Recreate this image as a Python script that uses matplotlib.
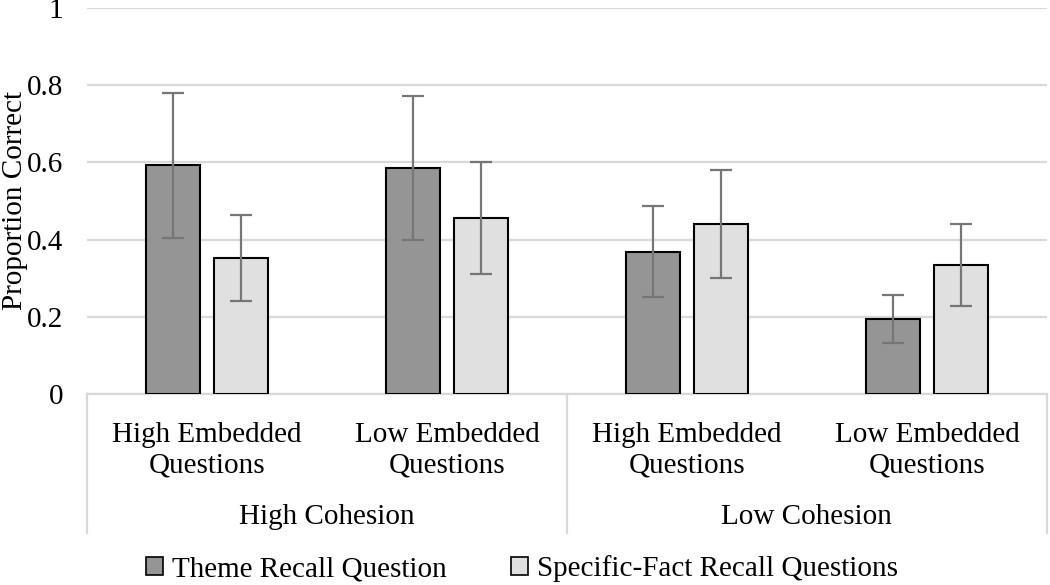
import matplotlib
matplotlib.use('Agg')
import matplotlib.pyplot as plt
from matplotlib.patches import Patch
import matplotlib.transforms as mtransforms
import numpy as np

plt.rcParams['font.family'] = ['Liberation Serif', 'DejaVu Serif']

categories = ['High Embedded\nQuestions', 'Low Embedded\nQuestions',
              'High Embedded\nQuestions', 'Low Embedded\nQuestions']
groups = ['High Cohesion', 'Low Cohesion']
group_sizes = [2, 2]
series_names = ['Theme Recall Question', 'Specific-Fact Recall Questions']
theme_mean = [0.592, 0.586, 0.369, 0.194]
theme_err = [0.187, 0.186, 0.117, 0.062]
fact_mean = [0.352, 0.457, 0.441, 0.333]
fact_err = [0.112, 0.145, 0.140, 0.106]
yticks = [0, 0.2, 0.4, 0.6, 0.8, 1]
ytick_labels = ['0', '0.2', '0.4', '0.6', '0.8', '1']

dark = '#959595'
light = '#e0e0e0'
grid_c = '#d9d9d9'
err_c = '#767676'

fig = plt.figure(figsize=(10.5, 5.85), dpi=100)
ax = fig.add_axes([0.083, 0.3265, 0.914, 0.66])

x = np.arange(len(categories))
w = 0.225
off = 0.142
ekw = dict(ecolor=err_c, elinewidth=1.6, capsize=8, capthick=1.6)
ax.bar(x - off, theme_mean, w, color=dark, edgecolor='black', linewidth=1.5,
       yerr=theme_err, error_kw=ekw, zorder=3)
ax.bar(x + off, fact_mean, w, color=light, edgecolor='black', linewidth=1.5,
       yerr=fact_err, error_kw=ekw, zorder=3)

ax.set_ylim(0, 1)
ax.set_xlim(-0.5, len(categories) - 0.5)
ax.set_yticks(yticks)
ax.set_yticklabels(ytick_labels, fontsize=21)
ax.yaxis.grid(True, color=grid_c, linewidth=1.6, zorder=0)
ax.set_axisbelow(True)
for s in ['top', 'right', 'left']:
    ax.spines[s].set_visible(False)
ax.spines['bottom'].set_color(grid_c)
ax.spines['bottom'].set_linewidth(1.6)
ax.tick_params(axis='y', length=0, pad=17)
ax.tick_params(axis='x', length=0, pad=20)
ax.set_xticks(x)
ax.set_xticklabels(categories, fontsize=21, linespacing=1.25)
ax.set_ylabel('Proportion Correct', fontsize=21)
ax.yaxis.set_label_coords(-0.062, 0.5)

# group labels and separators
trans = mtransforms.blended_transform_factory(ax.transData, ax.transAxes)
start = -0.5
edges = [start]
for g, n in zip(groups, group_sizes):
    ax.text(start + n / 2, -0.318, g, transform=trans, ha='center', va='center',
            fontsize=21)
    start += n
    edges.append(start)
for e in edges:
    ax.plot([e, e], [0, -0.36], transform=trans, color=grid_c, linewidth=1.6,
            clip_on=False)

handles = [Patch(facecolor=dark, edgecolor='black', linewidth=1.2),
           Patch(facecolor=light, edgecolor='black', linewidth=1.2)]
fig.legend(handles, series_names, loc='center', bbox_to_anchor=(0.497, 0.028),
           ncol=2, frameon=False, fontsize=21, handlelength=0.6,
           handleheight=0.6, handletextpad=0.3, columnspacing=2.2)

fig.savefig('out.png', dpi=100)
